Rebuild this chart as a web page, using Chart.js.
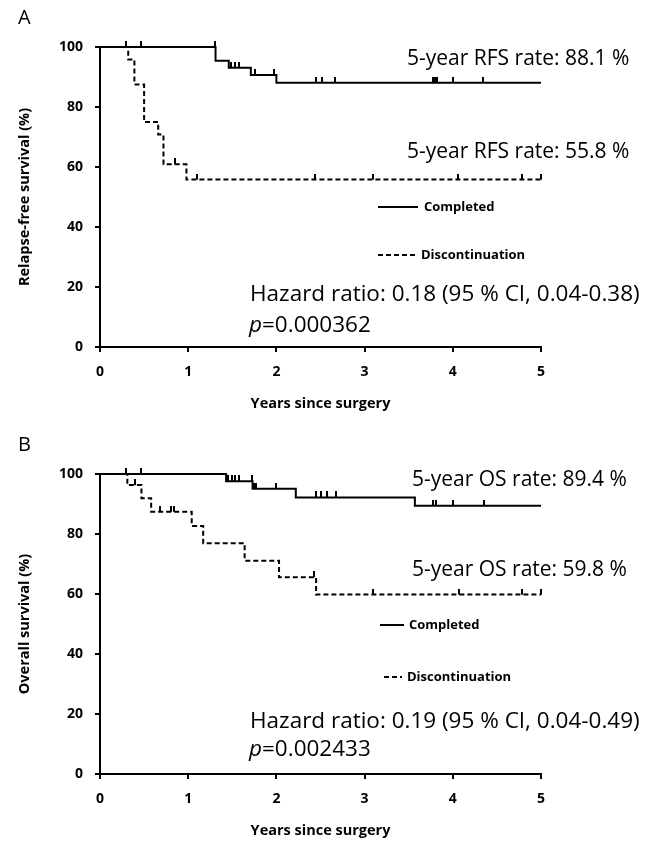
<!DOCTYPE html>
<html><head><meta charset="utf-8">
<script src="https://cdn.jsdelivr.net/npm/chart.js@4.4.1/dist/chart.umd.min.js"></script>
<style>
html,body{margin:0;padding:0;background:#fff;width:661px;height:841px;overflow:hidden;}
.panel{position:absolute;left:0;width:661px;height:420px;}
#pa{top:0}
#pb{top:427px}
</style></head><body>
<div class="panel" id="pa"><canvas id="ca" width="661" height="420"></canvas></div>
<div class="panel" id="pb"><canvas id="cb" width="661" height="420"></canvas></div>
<script>
// ---------- data ----------
const xTickValues = [0, 1, 2, 3, 4, 5];
const yTickValues = [0, 20, 40, 60, 80, 100];
const seriesNames = ['Completed', 'Discontinuation'];

// Panel A: relapse-free survival
const rfsCompletedTimes = [0, 1.31, 1.46, 1.71, 2.00, 5.00];
const rfsCompletedSurv  = [100, 95.4, 93.1, 90.7, 88.1, 88.1];
const rfsCompletedCensor = [0.47, 1.30, 1.49, 1.53, 1.58, 1.76, 1.97, 2.45, 2.52, 2.67, 3.78, 3.80, 3.82, 4.00, 4.34];
const rfsDiscTimes = [0, 0.32, 0.39, 0.50, 0.66, 0.72, 0.98, 5.00];
const rfsDiscSurv  = [100, 95.8, 87.5, 75.0, 70.8, 60.9, 55.8, 55.8];
const rfsDiscCensor = [0.30, 0.85, 1.10, 2.44, 3.10, 4.06, 4.78, 5.00];

// Panel B: overall survival
const osCompletedTimes = [0, 1.43, 1.73, 2.22, 3.57, 5.00];
const osCompletedSurv  = [100, 97.6, 95.1, 92.2, 89.4, 89.4];
const osCompletedCensor = [0.47, 1.45, 1.50, 1.53, 1.58, 1.72, 1.75, 1.77, 1.99, 2.45, 2.51, 2.57, 2.68, 3.78, 3.81, 4.00, 4.35];
const osDiscTimes = [0, 0.31, 0.47, 0.58, 1.04, 1.17, 1.64, 2.03, 2.45, 5.00];
const osDiscSurv  = [100, 96.3, 91.9, 87.4, 82.7, 76.9, 71.1, 65.6, 59.8, 59.8];
const osDiscCensor = [0.30, 0.40, 0.68, 0.80, 0.84, 2.43, 3.10, 4.07, 4.78, 5.00];

// ---------- helpers ----------
const FONT = "'Open Sans', 'Noto Sans', sans-serif";
Chart.defaults.font.family = FONT;
Chart.defaults.color = '#000';

function toPoints(times, surv) { return times.map((t, i) => ({x: t, y: surv[i]})); }
function levelAt(times, surv, t) {
  let v = surv[0];
  for (let i = 0; i < times.length; i++) if (times[i] <= t) v = surv[i];
  return v;
}
function censorPoints(times, surv, cens) { return cens.map(t => ({x: t, y: levelAt(times, surv, t)})); }

const tickImg = document.createElement('canvas');
tickImg.width = 2; tickImg.height = 12;
(function(){ const c = tickImg.getContext('2d'); c.fillStyle = '#000'; c.fillRect(0, 0, 2, 6); })();

const DASH = [5, 3];

const annotPlugin = {
  id: 'annot',
  afterDraw(chart, args, opts) {
    const ctx = chart.ctx;
    ctx.save();
    ctx.fillStyle = '#000';
    ctx.strokeStyle = '#000';
    ctx.textBaseline = 'middle';
    ctx.textAlign = 'left';
    // panel letter
    ctx.font = '20px ' + FONT;
    ctx.fillText(opts.letter, 18, 18);
    // rate texts
    ctx.font = '21px ' + FONT;
    for (const r of opts.rates) ctx.fillText(r.text, r.x, r.y);
    // hazard + p
    ctx.font = '22.5px ' + FONT;
    ctx.fillText(opts.hazard.text, opts.hazard.x, opts.hazard.y);
    ctx.font = 'italic 22.5px ' + FONT;
    ctx.fillText('p', opts.pval.x, opts.pval.y);
    const w = ctx.measureText('p').width;
    ctx.font = '22.5px ' + FONT;
    ctx.fillText(opts.pval.text, opts.pval.x + w, opts.pval.y);
    // legend
    ctx.font = 'bold 13px ' + FONT;
    opts.legend.forEach((l, i) => {
      const ds = chart.data.datasets[i];
      ctx.beginPath();
      ctx.lineWidth = 2;
      ctx.setLineDash(ds.borderDash || []);
      ctx.moveTo(l.x0, l.y); ctx.lineTo(l.x1, l.y); ctx.stroke();
      ctx.setLineDash([]);
      ctx.fillText(ds.label, l.tx, l.y);
    });
    ctx.restore();
  }
};

function makeChart(id, yTitle, compT, compS, compC, discT, discS, discC, annot) {
  return new Chart(document.getElementById(id), {
    type: 'scatter',
    data: {
      datasets: [
        {label: seriesNames[0], data: toPoints(compT, compS), showLine: true, stepped: 'before',
         borderColor: '#000', borderWidth: 2, pointRadius: 0, clip: false},
        {label: seriesNames[1], data: toPoints(discT, discS), showLine: true, stepped: 'before',
         borderColor: '#000', borderWidth: 2, borderDash: DASH, pointRadius: 0, clip: false},
        {label: 'c1', data: censorPoints(compT, compS, compC), showLine: false,
         pointStyle: tickImg, pointRadius: 3, clip: false},
        {label: 'c2', data: censorPoints(discT, discS, discC), showLine: false,
         pointStyle: tickImg, pointRadius: 3, clip: false}
      ]
    },
    options: {
      responsive: false, animation: false, events: [],
      layout: {padding: {left: 0, right: 120, top: 47, bottom: 0}},
      plugins: {legend: {display: false}, tooltip: {enabled: false}, annot: annot},
      scales: {
        x: {
          type: 'linear', min: 0, max: 5,
          afterBuildTicks: s => { s.ticks = xTickValues.map(v => ({value: v})); },
          afterFit: s => { s.height = 73; },
          ticks: {font: {weight: 'bold', size: 14}, padding: 12, color: '#000'},
          grid: {drawOnChartArea: false, drawTicks: true, tickLength: 5, color: '#000', lineWidth: 2},
          border: {display: true, color: '#000', width: 2},
          title: {display: true, text: 'Years since surgery', font: {weight: 'bold', size: 14.5}, padding: {top: 0, bottom: 7}, color: '#000'}
        },
        y: {
          type: 'linear', min: 0, max: 100,
          afterBuildTicks: s => { s.ticks = yTickValues.map(v => ({value: v})); },
          afterFit: s => { s.width = 100; },
          ticks: {font: {weight: 'bold', size: 14}, padding: 12, color: '#000'},
          grid: {drawOnChartArea: false, drawTicks: true, tickLength: 5, color: '#000', lineWidth: 2},
          border: {display: true, color: '#000', width: 2},
          title: {display: true, text: yTitle, font: {weight: 'bold', size: 14.5}, padding: {top: 16, bottom: 0}, color: '#000'}
        }
      }
    },
    plugins: [annotPlugin]
  });
}

makeChart('ca', 'Relapse-free survival (%)',
  rfsCompletedTimes, rfsCompletedSurv, rfsCompletedCensor,
  rfsDiscTimes, rfsDiscSurv, rfsDiscCensor,
  {
    letter: 'A',
    rates: [{text: '5-year RFS rate: 88.1 %', x: 407, y: 59}, {text: '5-year RFS rate: 55.8 %', x: 407, y: 152}],
    hazard: {text: 'Hazard ratio: 0.18 (95 % CI, 0.04-0.38)', x: 250, y: 295},
    pval: {text: '=0.000362', x: 249, y: 326},
    legend: [{x0: 378, x1: 418, tx: 424, y: 207}, {x0: 378, x1: 416, tx: 421, y: 255}]
  });

makeChart('cb', 'Overall survival (%)',
  osCompletedTimes, osCompletedSurv, osCompletedCensor,
  osDiscTimes, osDiscSurv, osDiscCensor,
  {
    letter: 'B',
    rates: [{text: '5-year OS rate: 89.4 %', x: 412, y: 53}, {text: '5-year OS rate: 59.8 %', x: 412, y: 143}],
    hazard: {text: 'Hazard ratio: 0.19 (95 % CI, 0.04-0.49)', x: 250, y: 295},
    pval: {text: '=0.002433', x: 249, y: 323},
    legend: [{x0: 380, x1: 404, tx: 409, y: 198}, {x0: 384, x1: 402, tx: 407, y: 250}]
  });
</script>
</body></html>
